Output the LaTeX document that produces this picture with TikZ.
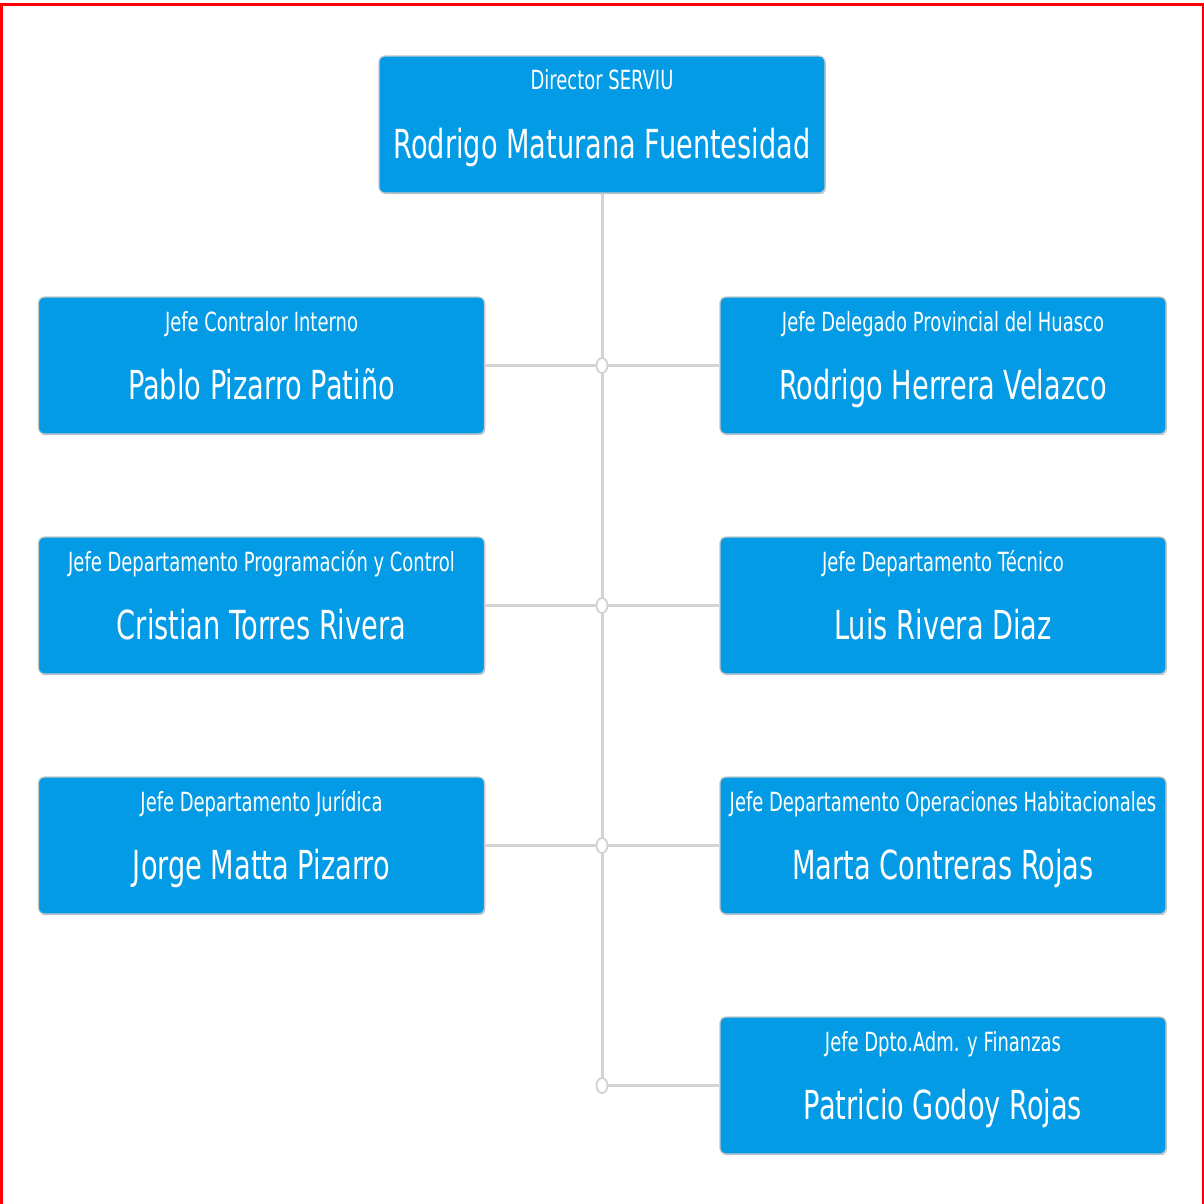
\documentclass[tikz,border=0pt]{standalone}
\usepackage{fontspec}
\setmainfont{DejaVu Sans}[FakeStretch=0.68]
\usetikzlibrary{shadows,shapes.geometric}
\definecolor{boxblue}{HTML}{039BE5}
\definecolor{linkgray}{HTML}{D3D3D3}
\definecolor{edgegray}{HTML}{C8C8C8}
\tikzset{
  orgbox/.style={draw=edgegray, line width=0.6pt, fill=boxblue, rounded corners=3pt,
    minimum width=223pt, minimum height=68.5pt, inner sep=0pt,
    drop shadow={shadow xshift=0.4pt, shadow yshift=-0.6pt, opacity=0.25, fill=black}},
  titletext/.style={anchor=base, text=white, font=\fontsize{13.2}{15}\selectfont, inner sep=0pt},
  nametext/.style={anchor=base, text=white, font=\fontsize{20}{24}\selectfont, inner sep=0pt},
  link/.style={draw=linkgray, line width=1.5pt},
  junction/.style={ellipse, draw=linkgray, line width=0.9pt, fill=white, minimum width=5.5pt, minimum height=7.5pt, inner sep=0pt},
}
% \myorgbox{id}{cx}{top}{title}{name}
\newcommand{\myorgbox}[5]{%
  \node[orgbox] (#1) at (#2,#3+68.5) {};
  \node[titletext] (#1t) at (#2,#3+34) {#4};
  \node[nametext] (#1n) at (#2,#3+102.5) {#5};
}
\begin{document}
\begin{tikzpicture}[x=0.5pt,y=-0.5pt]
\useasboundingbox (0,0) rectangle (1204,1204);
\draw[red, line width=1.2pt] (1.5,1204) -- (1.5,4.5) -- (1202.8,4.5) -- (1202.8,1204);
% junction coordinates
\coordinate (j1) at (602,365.5);
\coordinate (j2) at (602,605.5);
\coordinate (j3) at (602,845.5);
\coordinate (j4) at (602,1085.5);
% boxes
\myorgbox{dir}{602}{56}{Director SERVIU}{Rodrigo Maturana Fuentesidad}
\myorgbox{l1}{261.5}{297}{Jefe Contralor Interno}{Pablo Pizarro Patiño}
\myorgbox{l2}{261.5}{537}{Jefe Departamento Programación y Control}{Cristian Torres Rivera}
\myorgbox{l3}{261.5}{777}{Jefe Departamento Jurídica}{Jorge Matta Pizarro}
\myorgbox{r1}{943}{297}{Jefe Delegado Provincial del Huasco}{Rodrigo Herrera Velazco}
\myorgbox{r2}{943}{537}{Jefe Departamento Técnico}{Luis Rivera Diaz}
\myorgbox{r3}{943}{777}{Jefe Departamento Operaciones Habitacionales}{Marta Contreras Rojas}
\myorgbox{r4}{943}{1017}{Jefe Dpto.Adm. y Finanzas}{Patricio Godoy Rojas}
% connectors
\draw[link] (dir.south) -- (j4);
\draw[link] (l1.east) -- (r1.west);
\draw[link] (l2.east) -- (r2.west);
\draw[link] (l3.east) -- (r3.west);
\draw[link] (j4) -- (r4.west);
\node[junction] (k1) at (j1) {};
\node[junction] (k2) at (j2) {};
\node[junction] (k3) at (j3) {};
\node[junction] (k4) at (j4) {};
\end{tikzpicture}
\end{document}
